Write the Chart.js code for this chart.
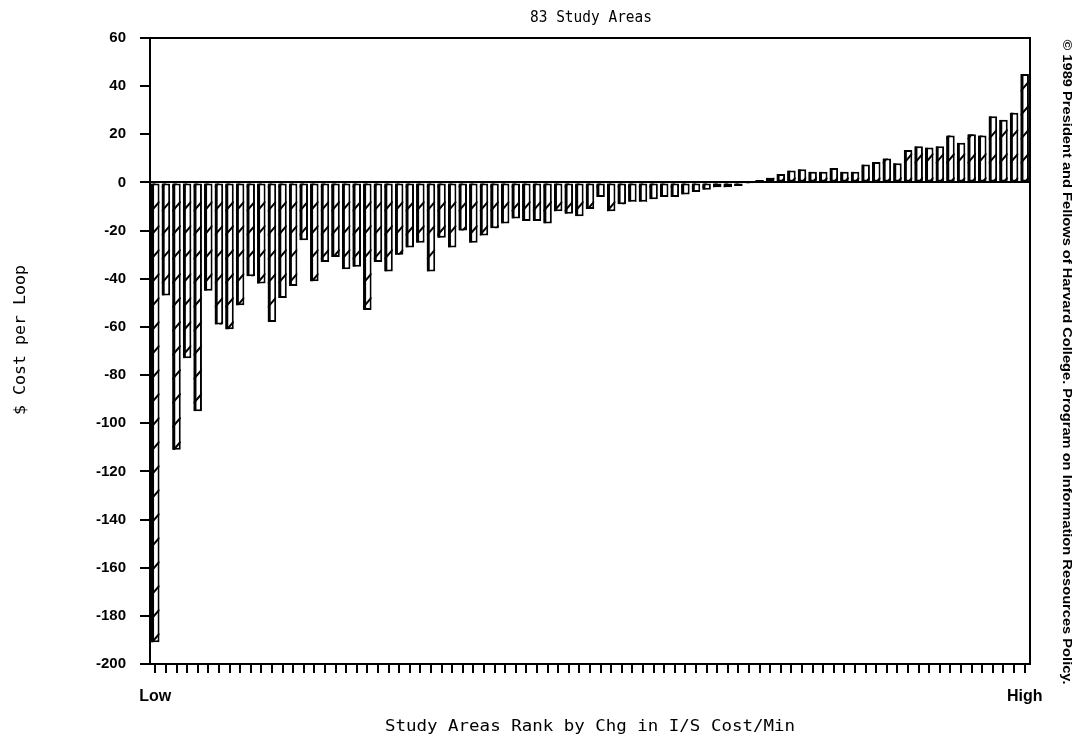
<!DOCTYPE html>
<html>
<head>
<meta charset="utf-8">
<script src="https://cdn.jsdelivr.net/npm/chart.js@4.4.1/dist/chart.umd.min.js"></script>
<style>
html, body { margin: 0; padding: 0; background: #fff; }
#wrap { width: 1078px; height: 743px; }
</style>
</head>
<body>
<div id="wrap"><canvas id="canvas-loops" width="1078" height="743"></canvas></div>
<script>
// change in $ cost per loop, study areas ranked from low to high
var costPerLoop = [
    -191, -47, -111, -73, -95, -45, -59, -61, -51, -39,
    -42, -58, -48, -43, -24, -41, -33, -31, -36, -35,
    -53, -33, -37, -30, -27, -25, -37, -23, -27, -20,
    -25, -22, -19, -17, -15, -16, -16, -17, -12, -13,
    -14, -11, -6, -12, -9, -8, -8, -7, -6, -6,
    -5, -4, -3, -2, -2, -1.5, -0.5, 1, 2, 3.5,
    5, 5.5, 4.5, 4.5, 6, 4.5, 4.5, 7.5, 8.5, 10,
    8, 13.5, 15, 14.5, 15, 19.5, 16.5, 20, 19.5, 27.5,
    26, 29, 45
];
// one category per study area, only the two ends get a label
var rankLabels = costPerLoop.map(function(v, i) { return 'Area ' + (i + 1); });
var endLabels = ['Low', 'High'];
var yMin = -200;
var yMax = 60;
var yStep = 20;

var chartTitle = '83 Study Areas';
var xTitle = 'Study Areas Rank by Chg in I/S Cost/Min';
var yTitle = '$ Cost per Loop';
var creditLine = '\u00a9 1989 President and Fellows of Harvard College. Program on Information Resources Policy.';

// draw text squeezed or stretched to a given width
function fitText(ctx, text, x, y, width, angle) {
    var w = ctx.measureText(text).width;
    ctx.save();
    ctx.translate(x, y);
    if (angle) ctx.rotate(angle);
    ctx.scale(width / w, 1);
    ctx.fillText(text, 0, 0);
    ctx.restore();
}

// diagonal slashes inside every bar
var hatchPlugin = {
    id: 'hatch',
    afterDatasetsDraw: function(chart) {
        var ctx = chart.ctx;
        var meta = chart.getDatasetMeta(0);
        var zero = chart.scales.y.getPixelForValue(0);
        ctx.save();
        ctx.strokeStyle = '#000';
        ctx.lineWidth = 2;
        meta.data.forEach(function(bar) {
            var p = bar.getProps(['x', 'y', 'base', 'width'], true);
            var left = p.x - p.width / 2;
            var top = Math.min(p.y, p.base);
            var bottom = Math.max(p.y, p.base);
            ctx.save();
            ctx.beginPath();
            ctx.rect(left, top, p.width, bottom - top);
            ctx.clip();
            ctx.beginPath();
            for (var yy = zero - 312; yy < zero + 600; yy += 24) {
                ctx.moveTo(left, yy + 5);
                ctx.lineTo(left + p.width, yy - 5);
            }
            ctx.stroke();
            // heavier left edge on each bar
            ctx.fillStyle = '#000';
            ctx.fillRect(left, top, 3, bottom - top);
            ctx.restore();
        });
        ctx.restore();
    }
};

// frame lines and all the titles
var textPlugin = {
    id: 'texts',
    afterDraw: function(chart) {
        var ctx = chart.ctx;
        var area = chart.chartArea;
        ctx.save();
        ctx.strokeStyle = '#000';
        ctx.lineWidth = 2;
        ctx.beginPath();
        ctx.moveTo(area.left - 10, area.top);
        ctx.lineTo(area.right, area.top);
        ctx.lineTo(area.right, area.bottom);
        ctx.stroke();

        ctx.fillStyle = '#000';
        ctx.textAlign = 'center';
        ctx.textBaseline = 'middle';
        ctx.font = '15px "DejaVu Sans Mono"';
        fitText(ctx, chartTitle, 591, 18, 122, 0);
        fitText(ctx, xTitle, 590, 727, 410, 0);
        fitText(ctx, yTitle, 21, 340, 150, -Math.PI / 2);

        ctx.font = 'bold 12px "Liberation Sans Narrow", "Liberation Sans", Arial';
        fitText(ctx, creditLine, 1066, 362, 645, Math.PI / 2);
        ctx.restore();
    }
};

var ctx = document.getElementById('canvas-loops').getContext('2d');
var myBarChart = new Chart(ctx, {
    type: 'bar',
    data: {
        labels: rankLabels,
        datasets: [{
            label: '$ Cost per Loop',
            data: costPerLoop,
            backgroundColor: '#fff',
            borderColor: '#000',
            borderWidth: 2,
            borderSkipped: false,
            categoryPercentage: 0.8,
            barPercentage: 1
        }]
    },
    options: {
        responsive: false,
        animation: false,
        devicePixelRatio: 1,
        layout: {
            padding: { top: 38, right: 48, left: 0, bottom: 0 }
        },
        plugins: {
            legend: { display: false },
            title: { display: false },
            tooltip: { enabled: false }
        },
        scales: {
            x: {
                offset: true,
                grid: {
                    offset: false,
                    drawOnChartArea: false,
                    tickLength: 9,
                    tickColor: '#000',
                    lineWidth: 2
                },
                border: { color: '#000', width: 2 },
                ticks: {
                    autoSkip: false,
                    maxRotation: 0,
                    minRotation: 0,
                    color: '#000',
                    padding: 14,
                    font: { family: '"Liberation Sans", Arial', size: 16, weight: 'bold' },
                    callback: function(val, i) {
                        if (i === 0) return endLabels[0];
                        if (i === costPerLoop.length - 1) return endLabels[1];
                        return '';
                    }
                },
                afterFit: function(scale) { scale.height = 79; }
            },
            y: {
                min: yMin,
                max: yMax,
                grid: {
                    color: function(c) {
                        return c.tick && c.tick.value === 0 ? '#000' : 'rgba(0,0,0,0)';
                    },
                    lineWidth: 2,
                    tickColor: '#000',
                    tickLength: 10
                },
                border: { color: '#000', width: 2 },
                ticks: {
                    stepSize: yStep,
                    color: '#000',
                    padding: 14,
                    font: { family: '"Liberation Sans", Arial', size: 15, weight: 'bold' }
                },
                afterFit: function(scale) { scale.width = 150; }
            }
        }
    },
    plugins: [hatchPlugin, textPlugin]
});
</script>
</body>
</html>
